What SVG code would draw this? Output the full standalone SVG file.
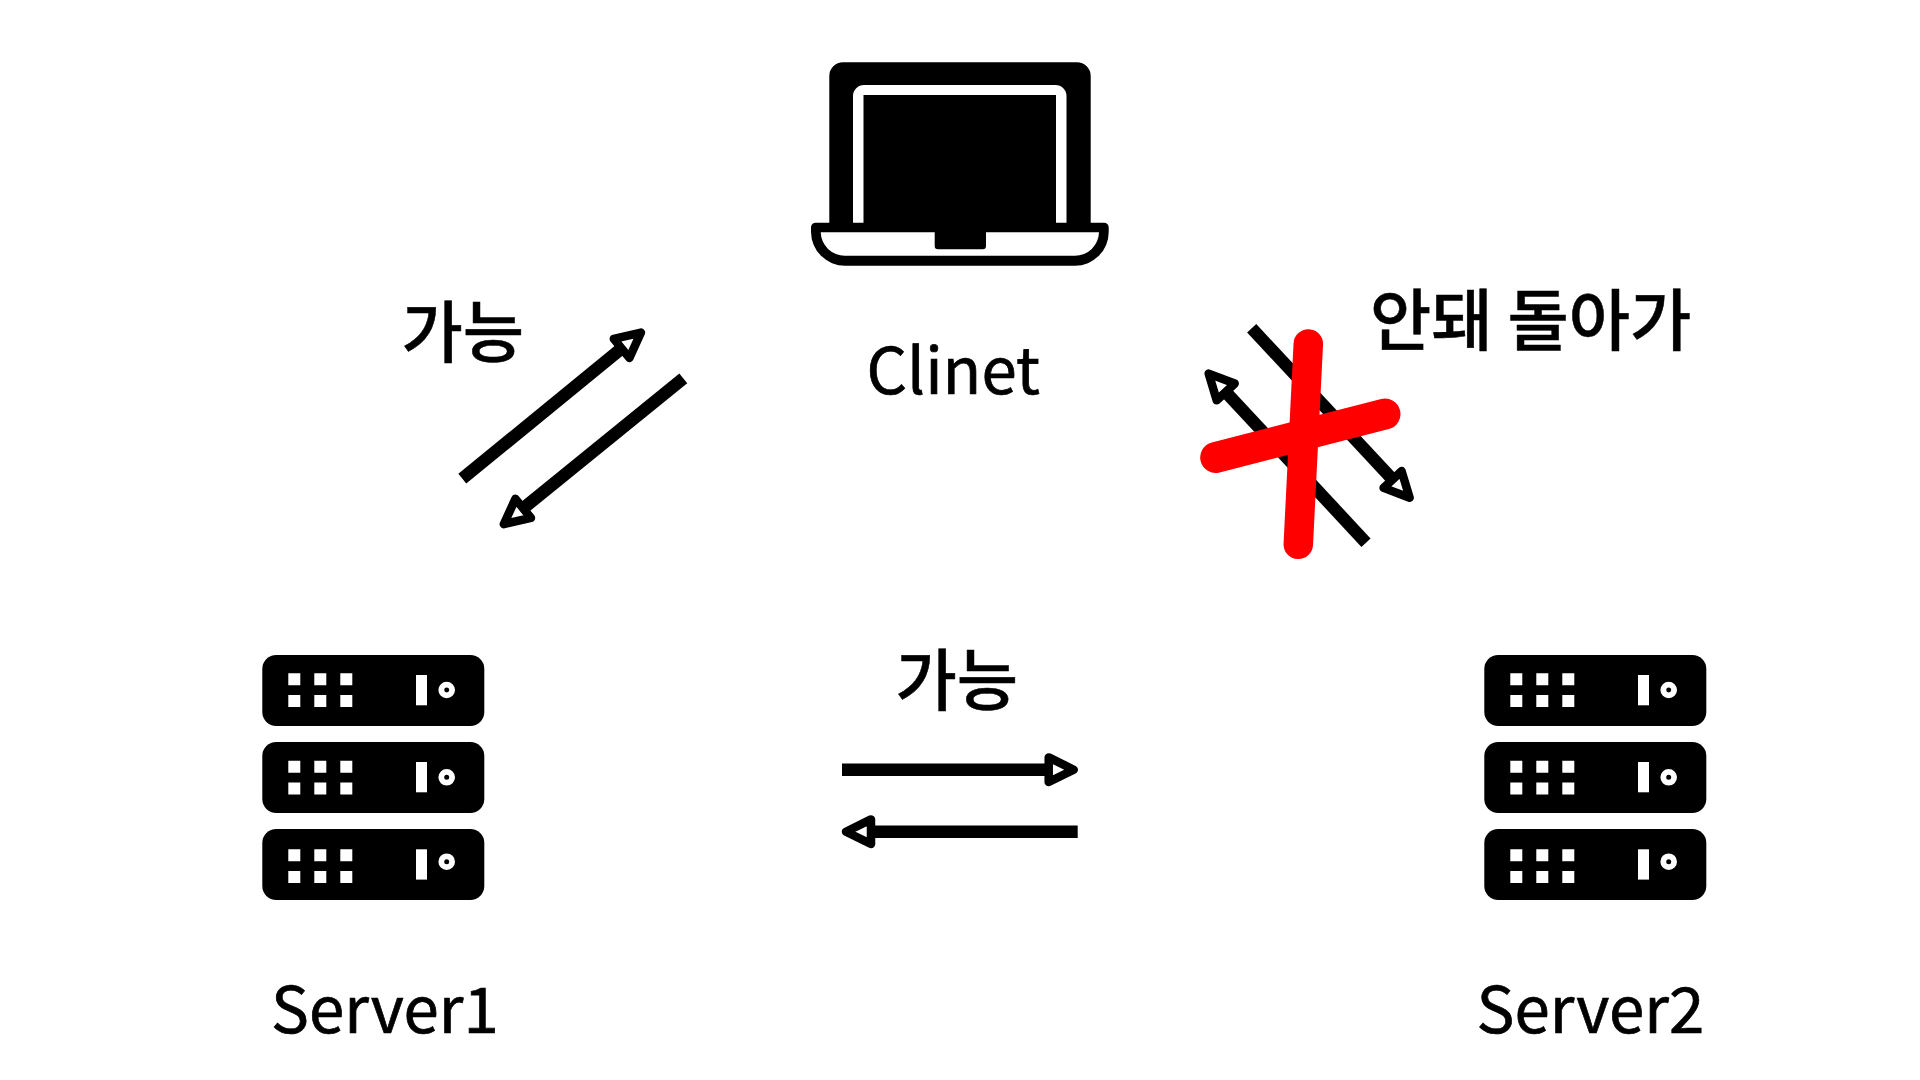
<svg xmlns="http://www.w3.org/2000/svg" width="1920" height="1080" viewBox="0 0 1920 1080">
<style>
text{font-family:"Noto Sans CJK KR","Noto Sans",sans-serif;font-size:63.600px;font-weight:400;fill:#000;stroke:#000;stroke-width:.7px}
text.k{font-size:66.600px;font-weight:500;stroke-width:.5px}
.a{stroke:#000;stroke-width:12.500;fill:none;marker-end:url(#h)}
.x{stroke:#f00;stroke-linecap:round;fill:none}
.w{fill:#fff}
</style>
<defs>
<marker id="h" markerUnits="userSpaceOnUse" markerWidth="60" markerHeight="60" refX="0" refY="30" orient="auto" overflow="visible" viewBox="0 0 60 60"><path d="M0 17.700L25 30L0 42.300Z" fill="#fff" stroke="#000" stroke-width="8.500" stroke-linejoin="round"/></marker>
<g id="plate"><rect x="262.300" y="655" width="222" height="71" rx="14" fill="#000"/></g>
<g id="dots"><path class="w" d="M288.300 673.300h12v12h-12zM314.300 673.300h12v12h-12zM340.300 673.300h12v12h-12zM288.300 695h12v12h-12zM314.300 695h12v12h-12zM340.300 695h12v12h-12z"/></g>
<g id="bar"><path class="w" d="M416 675h11v30.300h-11z"/></g>
<circle id="knob" cx="446.700" cy="690" r="5.400" fill="none" stroke="#fff" stroke-width="5.800"/>
<g id="srv">
<use href="#plate"/><use href="#dots"/><use href="#bar"/><use href="#knob"/>
<use href="#plate" y="87"/><use href="#dots" y="87.500"/><use href="#bar" y="87"/><use href="#knob" y="87.300"/>
<use href="#plate" y="174"/><use href="#dots" y="176"/><use href="#bar" y="174.300"/><use href="#knob" y="171.700"/>
</g>
</defs>
<rect width="1920" height="1080" fill="#fff"/>
<g id="client">
<path fill-rule="evenodd" d="M843 62.300H1077a13.700 13.700 0 0 1 13.700 13.700V222.700H1104a4.700 4.700 0 0 1 4.700 4.700V232a33.700 33.700 0 0 1-33.700 33.700H845A34 34 0 0 1 811 232V227.400a4.700 4.700 0 0 1 4.700-4.700H829.300V76A13.700 13.700 0 0 1 843 62.300ZM863.500 222.700H853V96A11 11 0 0 1 864 85H1055.500A11 11 0 0 1 1066.500 96V222.700H1056V95H863.500ZM820.700 232.300A24 24 0 0 0 845 255.700H1075A24 24 0 0 0 1099 232.300H986V246a3.300 3.300 0 0 1-3.300 3.300H938a3.300 3.300 0 0 1-3.300-3.300V232.300Z"/>
<text x="866.500" y="394">Clinet</text>
</g>
<g id="server1"><use href="#srv"/><text x="271" y="1033">Server1</text></g>
<g id="server2"><use href="#srv" x="1222"/><text x="1476.500" y="1033">Server2</text></g>
<g id="connectors">
<line class="a" x1="842" y1="769.700" x2="1048.700" y2="769.700"/>
<line class="a" x1="1077.700" y1="831.700" x2="871" y2="831.700"/>
<line class="a" x1="462.300" y1="478.700" x2="621.600" y2="348.400"/>
<line class="a" x1="683.300" y1="378.300" x2="523.200" y2="508.400"/>
<line class="a" x1="1366" y1="542.700" x2="1225.700" y2="391.900"/>
<line class="a" x1="1251.700" y1="328.300" x2="1392.600" y2="479.500"/>
<line class="x" stroke-width="29.500" x1="1308.300" y1="344" x2="1298.300" y2="544.300"/>
<line class="x" stroke-width="31" x1="1215.700" y1="457.500" x2="1385" y2="414"/>
</g>
<g id="labels">
<text class="k" x="401.500" y="357">가능</text>
<text class="k" x="895.500" y="705">가능</text>
<text class="k" x="1370" y="345">안돼 돌아가</text>
</g>
</svg>
